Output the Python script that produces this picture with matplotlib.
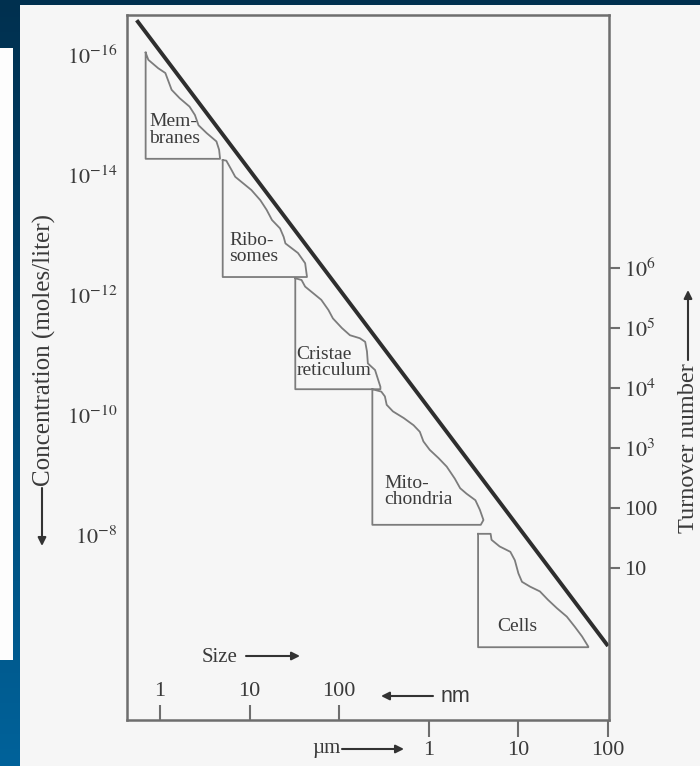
import numpy as np
import matplotlib.pyplot as plt
from matplotlib.patches import Rectangle
from matplotlib.ticker import FixedLocator, NullFormatter, NullLocator

plt.rcParams['font.family'] = ['Liberation Serif', 'DejaVu Serif']
plt.rcParams['mathtext.fontset'] = 'stix'

# limiting line: size (nm) vs concentration (moles/liter)
line_logsize = [-0.26, 5.0]
line_logconc = [-16.58, -6.15]

# upper (wavy) edges of each compartment, log10 size (nm) / log10 concentration
membranes_x = [-0.16, -0.13, -0.02, 0.06, 0.09, 0.13, 0.22, 0.33, 0.39, 0.43, 0.52, 0.63, 0.66, 0.67]
membranes_c = [-16.04, -15.92, -15.78, -15.70, -15.58, -15.42, -15.28, -15.14, -15.00, -14.83, -14.70, -14.56, -14.42, -14.28]
ribosomes_x = [0.70, 0.74, 0.80, 0.84, 0.93, 1.02, 1.12, 1.19, 1.25, 1.34, 1.38, 1.40, 1.47, 1.54, 1.62, 1.64]
ribosomes_c = [-14.25, -14.24, -14.08, -13.97, -13.86, -13.75, -13.58, -13.42, -13.25, -13.11, -12.97, -12.86, -12.78, -12.70, -12.53, -12.31]
cristae_x = [1.51, 1.58, 1.62, 1.71, 1.80, 1.88, 1.93, 2.03, 2.12, 2.23, 2.29, 2.31, 2.32, 2.40, 2.46]
cristae_c = [-12.28, -12.25, -12.14, -12.03, -11.92, -11.75, -11.61, -11.45, -11.33, -11.28, -11.22, -11.06, -10.86, -10.75, -10.47]
mito_x = [2.37, 2.47, 2.51, 2.53, 2.60, 2.72, 2.83, 2.90, 2.94, 3.01, 3.11, 3.20, 3.29, 3.35, 3.42, 3.52, 3.57, 3.61, 3.58]
mito_c = [-10.43, -10.39, -10.31, -10.17, -10.06, -9.95, -9.83, -9.72, -9.56, -9.42, -9.28, -9.14, -8.94, -8.78, -8.69, -8.58, -8.42, -8.25, -8.17]
cells_x = [3.55, 3.69, 3.70, 3.79, 3.91, 3.96, 4.00, 4.04, 4.13, 4.24, 4.33, 4.43, 4.54, 4.63, 4.71, 4.78]
cells_c = [-8.02, -8.02, -7.92, -7.81, -7.72, -7.58, -7.36, -7.22, -7.14, -7.06, -6.92, -6.78, -6.64, -6.47, -6.31, -6.14]
bottoms = [-14.27, -12.30, -10.43, -8.17, -6.13]

labels = ['Mem-\nbranes', 'Ribo-\nsomes', 'Cristae\nreticulum', 'Mito-\nchondria', 'Cells']
label_x = [-0.12, 0.77, 1.52, 2.50, 3.76]
label_c = [-14.75, -12.78, -10.87, -8.72, -6.48]

conc_ticks = [1e-16, 1e-14, 1e-12, 1e-10, 1e-8]
turnover_ticks = [10, 100, 1e3, 1e4, 1e5, 1e6]
turnover_labels = ['10', '100', '$10^3$', '$10^4$', '$10^5$', '$10^6$']
nm_ticks = [1, 10, 100]
um_ticks = [1, 10, 100]

W, H = 700, 766
fig = plt.figure(figsize=(W / 100, H / 100), dpi=100)

# slide background
bg = fig.add_axes([0, 0, 1, 1], zorder=0)
grad = np.linspace(0, 1, 256)[:, None]
cmap = plt.matplotlib.colors.LinearSegmentedColormap.from_list('slide', ['#00304f', '#00629a'])
bg.imshow(grad, cmap=cmap, aspect='auto', extent=[0, W, H, 0])
bg.add_patch(Rectangle((20, 5), W - 20, H - 5, facecolor='#f6f6f6', edgecolor='none'))
bg.add_patch(Rectangle((0, 48), 13, 612, facecolor='#fdfdfd', edgecolor='none'))
bg.set_xlim(0, W)
bg.set_ylim(H, 0)
bg.axis('off')

ax = fig.add_axes([127 / W, (H - 720) / H, 482 / W, 705 / H], zorder=1)
ax.set_facecolor('none')
ax.set_xscale('log')
ax.set_yscale('log')
ax.set_xlim(10 ** -0.368, 10 ** 5.011)
ax.set_ylim(10 ** -4.917, 10 ** -16.667)

for s in ax.spines.values():
    s.set_color('#6e6e6e')
    s.set_linewidth(1.8)

ax.plot(10 ** np.array(line_logsize), 10 ** np.array(line_logconc), color='#2e2e2e', lw=2.8,
        solid_capstyle='butt')

edges = [(membranes_x, membranes_c), (ribosomes_x, ribosomes_c), (cristae_x, cristae_c),
         (mito_x, mito_c), (cells_x, cells_c)]
for (ex, ec), bot, lab, lx, lc in zip(edges, bottoms, labels, label_x, label_c):
    px = list(ex) + [ex[-1], ex[0], ex[0]]
    pc = list(ec) + [bot, bot, ec[0]]
    ax.plot(10 ** np.array(px), 10 ** np.array(pc), color='#7c7c7c', lw=1.3)
    ax.text(10 ** lx, 10 ** lc, lab, fontsize=14, color='#3c3c3c', ha='left', va='center',
            linespacing=0.95)

# concentration axis (left)
ax.yaxis.set_major_locator(FixedLocator(conc_ticks))
ax.yaxis.set_minor_locator(NullLocator())
ax.set_yticklabels([f'$10^{{{int(np.log10(v))}}}$' for v in conc_ticks])
ax.tick_params(axis='y', length=0, pad=7, labelsize=16, labelcolor='#3a3a3a')

# size axis: micrometres below, nanometres inside
ax.xaxis.set_major_locator(FixedLocator([v * 1000 for v in um_ticks]))
ax.set_xticklabels([str(v) for v in um_ticks])
ax.xaxis.set_minor_locator(FixedLocator(nm_ticks))
ax.xaxis.set_minor_formatter(NullFormatter())
ax.tick_params(axis='x', which='major', direction='out', length=12, width=1.5, color='#6e6e6e',
               pad=3, labelsize=16, labelcolor='#3a3a3a')
ax.tick_params(axis='x', which='minor', direction='in', length=11, width=1.5, color='#6e6e6e')
for v in nm_ticks:
    ax.text(v, 0.04, str(v), transform=ax.get_xaxis_transform(), ha='center', va='center',
            fontsize=16, color='#3a3a3a')

# turnover axis (right)
ax2 = ax.twinx()
ax2.set_yscale('log')
ax2.set_ylim(10 ** -1.533, 10 ** 10.217)
for s in ax2.spines.values():
    s.set_visible(False)
ax2.yaxis.set_major_locator(FixedLocator(turnover_ticks))
ax2.yaxis.set_minor_locator(NullLocator())
ax2.set_yticklabels(turnover_labels)
ax2.tick_params(axis='y', direction='out', length=8, width=1.5, color='#6e6e6e', pad=3,
                labelsize=16, labelcolor='#3a3a3a')

arrow = dict(arrowstyle='-|>', color='#333333', lw=1.5, mutation_scale=12, shrinkA=0, shrinkB=0)
txt = dict(color='#3a3a3a')

bg.text(220, 657, 'Size', fontsize=15, ha='center', va='center', **txt)
bg.annotate('', xy=(300, 656), xytext=(246, 656), arrowprops=arrow)
bg.text(441, 696, 'nm', fontsize=15.5, ha='left', va='center', family='Liberation Sans', **txt)
bg.annotate('', xy=(381, 696), xytext=(433, 696), arrowprops=arrow)
bg.text(326, 749, '\u00b5m', fontsize=15, ha='center', va='center', **txt)
bg.annotate('', xy=(404, 749), xytext=(342, 749), arrowprops=arrow)

bg.text(44, 350, 'Concentration (moles/liter)', fontsize=18, rotation=90, ha='center',
        va='center', **txt)
bg.annotate('', xy=(42, 546), xytext=(42, 488), arrowprops=arrow)
bg.text(689, 448, 'Turnover number', fontsize=17.5, rotation=90, ha='center', va='center', **txt)
bg.annotate('', xy=(688, 290), xytext=(688, 360), arrowprops=arrow)

fig.savefig('out.png', dpi=100)
